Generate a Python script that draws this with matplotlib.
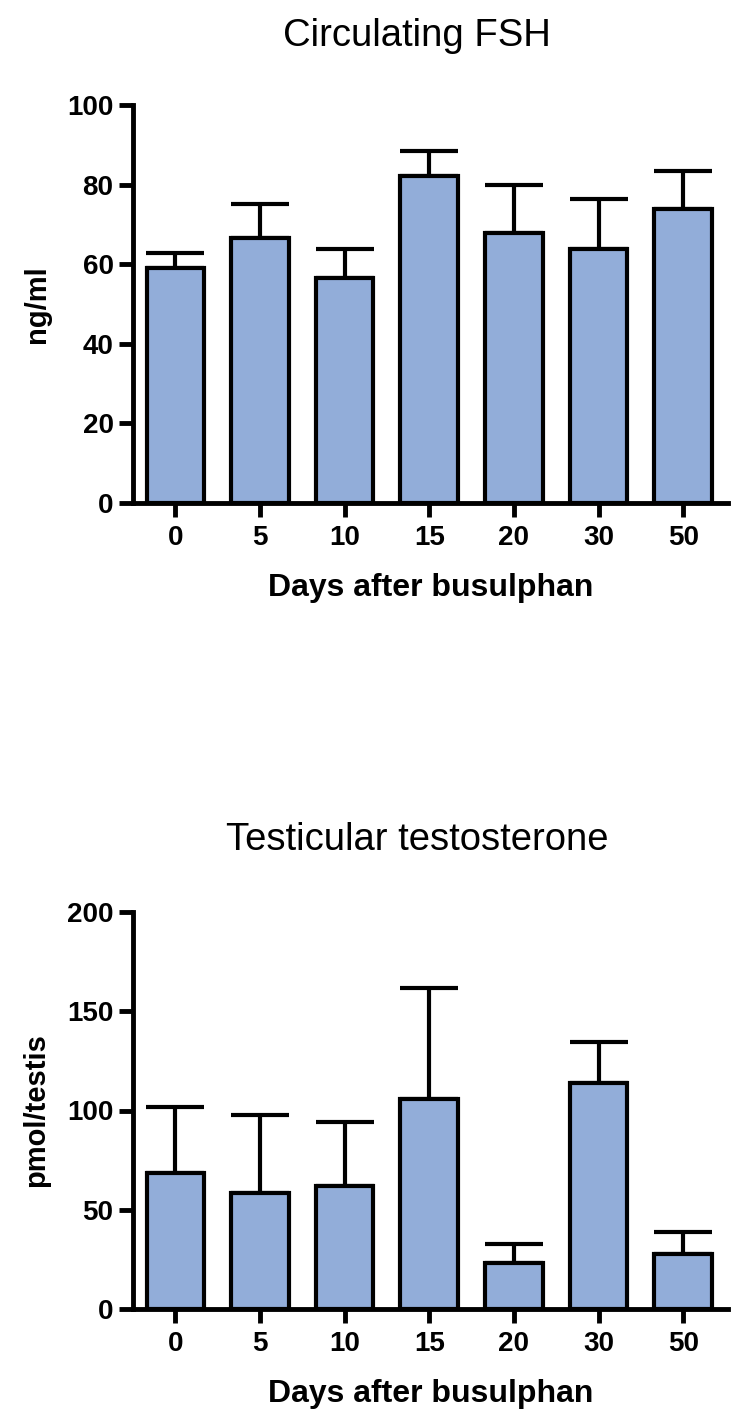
import matplotlib
matplotlib.use("Agg")
import matplotlib.pyplot as plt
import numpy as np

plt.rcParams['font.family'] = ['Liberation Sans', 'DejaVu Sans']

# data
days = ['0', '5', '10', '15', '20', '30', '50']
fsh_mean = [59.0, 66.6, 56.5, 82.2, 67.8, 63.8, 73.9]
fsh_err = [3.8, 8.5, 7.3, 6.2, 12.0, 12.6, 9.5]
testo_mean = [68.5, 58.4, 62.0, 105.8, 23.2, 113.9, 27.7]
testo_err = [33.3, 39.3, 32.2, 55.9, 9.5, 20.6, 11.1]

bar_color = '#92ADD9'
W, H = 740, 1418

fig = plt.figure(figsize=(W / 100, H / 100), dpi=100)


def panel(rect, means, errs, ymax, ystep, ylabel, title, title_y):
    ax = fig.add_axes(rect)
    x = np.arange(len(means))
    ax.bar(x, means, width=0.68, color=bar_color, edgecolor='black',
           linewidth=3, zorder=2)
    ax.errorbar(x, means, yerr=[np.zeros(len(errs)), errs], fmt='none',
                ecolor='black', elinewidth=3, capsize=21, capthick=3,
                zorder=1)
    ax.set_xlim(-0.5, 6.53)
    ax.set_ylim(0, ymax)
    ax.set_yticks(np.arange(0, ymax + 1, ystep))
    ax.set_xticks(x)
    ax.set_xticklabels(days)
    for s in ['top', 'right']:
        ax.spines[s].set_visible(False)
    for s in ['left', 'bottom']:
        ax.spines[s].set_linewidth(3.5)
    ax.tick_params(direction='out', length=10, width=3.5, pad=4,
                   labelsize=20)
    ax.tick_params(axis='x', pad=6)
    for lab in ax.get_xticklabels() + ax.get_yticklabels():
        lab.set_fontweight('bold')
    ax.set_xlabel('Days after busulphan', fontsize=23, fontweight='bold',
                  labelpad=16)
    ax.set_ylabel(ylabel, fontsize=21, fontweight='bold', labelpad=12)
    fig.text(417 / W, title_y, title, fontsize=27.5, ha='center', va='baseline')
    return ax


# top: circulating FSH
panel([133 / W, 1 - 503 / H, (728 - 133) / W, (503 - 105) / H],
      fsh_mean, fsh_err, 100, 20, 'ng/ml', 'Circulating FSH', 1 - 46 / H)

# bottom: testicular testosterone
panel([133 / W, 1 - 1309 / H, (728 - 133) / W, (1309 - 912) / H],
      testo_mean, testo_err, 200, 50, 'pmol/testis',
      'Testicular testosterone', 1 - 850 / H)

fig.savefig('out.png', dpi=100)
